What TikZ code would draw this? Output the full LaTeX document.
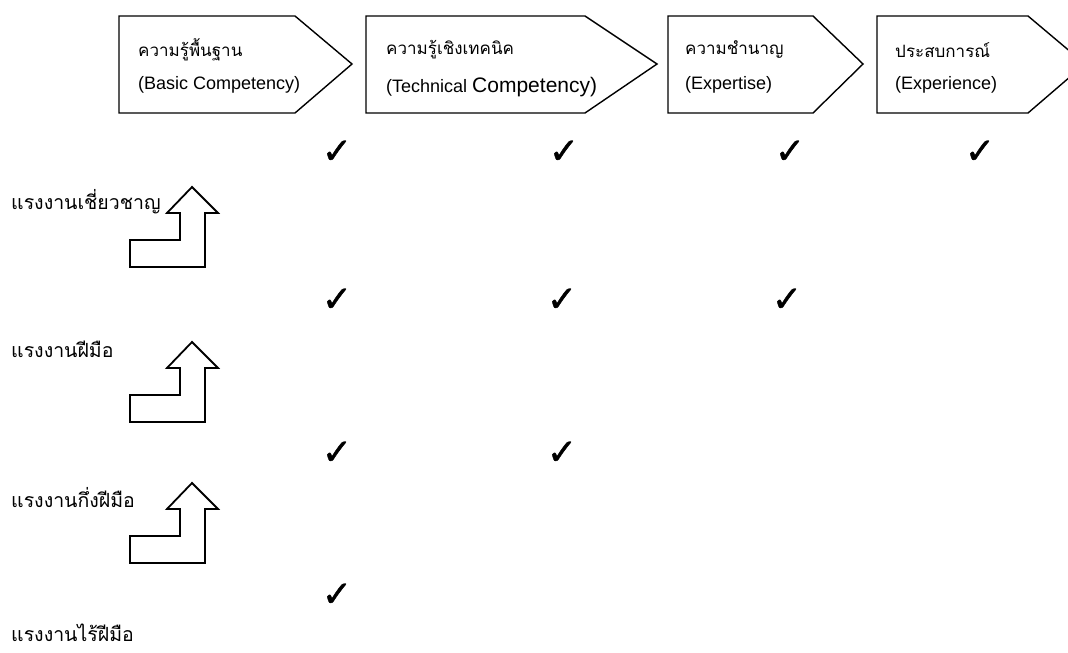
\documentclass[tikz,border=0pt]{standalone}
\usepackage{fontspec}
\setmainfont{Liberation Sans}
\newfontfamily\thai[Script=Thai]{Loma}
\newfontfamily\chkfont[FakeBold=1.2]{DejaVu Sans}
\usetikzlibrary{positioning}

\tikzset{
    hdr/.style={draw, line width=1.4pt, line join=miter},
    bent/.style={draw, line width=1.8pt, line join=miter},
    thtxt/.style={anchor=west, inner sep=0pt, font=\thai\fontsize{17}{17}\selectfont},
    entxt/.style={anchor=west, inner sep=0pt, font=\fontsize{18}{18}\selectfont},
    lvl/.style={anchor=west, inner sep=0pt, font=\thai\fontsize{19.5}{19.5}\selectfont},
    chk/.style={inner sep=0pt, font=\chkfont\fontsize{36}{36}\selectfont}
}

\begin{document}
\begin{tikzpicture}[x=1pt, y=-1pt]
    \clip (0,0) rectangle (1068,653);

    % Header arrows
    \draw[hdr] (119,16) -- (295,16) -- (352,64) -- (295,113) -- (119,113) -- cycle;
    \draw[hdr] (366,16) -- (585,16) -- (657,64) -- (585,113) -- (366,113) -- cycle;
    \draw[hdr] (668,16) -- (813,16) -- (863,64) -- (813,113) -- (668,113) -- cycle;
    \draw[hdr] (877,16) -- (1028,16) -- (1085,64) -- (1028,113) -- (877,113) -- cycle;

    \node[thtxt] (basicth) at (138,50) {ความรู้พื้นฐาน};
    \node[entxt] (basicen) at (138,85) {(Basic Competency)};
    \node[thtxt] (techth) at (386,50) {ความรู้เชิงเทคนิค};
    \node[entxt] (techen) at (386,87) {(Technical \fontsize{21}{21}\selectfont Competency)};
    \node[thtxt] (expth) at (685,50) {ความชำนาญ};
    \node[entxt] (expen) at (685,85) {(Expertise)};
    \node[thtxt] (exth) at (895,50) {ประสบการณ์};
    \node[entxt] (exen) at (895,85) {(Experience)};

    % Levels
    \node[lvl] (expert) at (11,202) {แรงงานเชี่ยวชาญ};
    \node[lvl] (skilled) at (11,349) {แรงงานฝีมือ};
    \node[lvl] (semi) at (11,498) {แรงงานกึ่งฝีมือ};
    \node[lvl] (unskilled) at (11,633) {แรงงานไร้ฝีมือ};

    % Bent arrows
    \foreach \t in {187,342,483} {
        \draw[bent] (192,\t) -- (218,\t+26) -- (205,\t+26) -- (205,\t+80)
            -- (130,\t+80) -- (130,\t+53) -- (180,\t+53) -- (180,\t+26)
            -- (167,\t+26) -- cycle;
    }

    % Check marks
    \node[chk] (c11) at (337,152) {✓};
    \node[chk] (c12) at (564,152) {✓};
    \node[chk] (c13) at (790,152) {✓};
    \node[chk] (c14) at (980,152) {✓};
    \node[chk] (c21) at (337,300) {✓};
    \node[chk] (c22) at (562,300) {✓};
    \node[chk] (c23) at (787,300) {✓};
    \node[chk] (c31) at (337,453) {✓};
    \node[chk] (c32) at (562,453) {✓};
    \node[chk] (c41) at (337,595) {✓};
\end{tikzpicture}
\end{document}
